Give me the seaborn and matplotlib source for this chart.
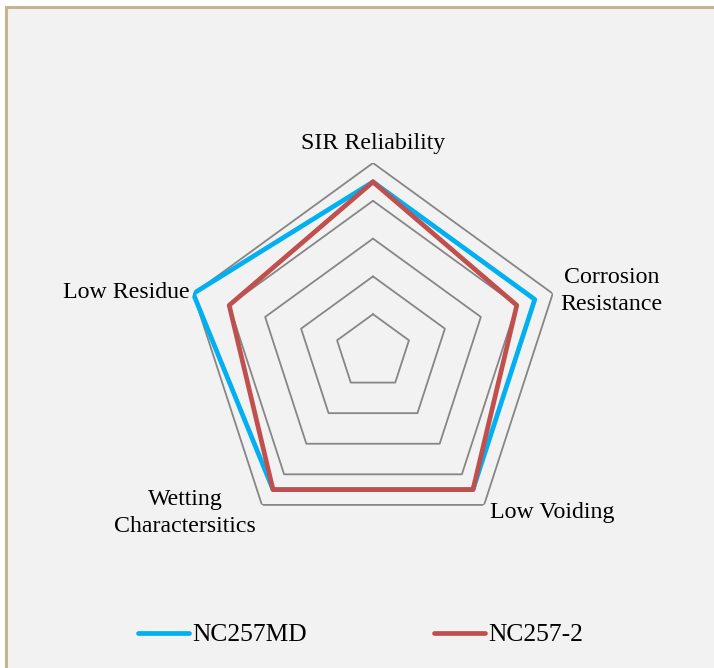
import matplotlib.pyplot as plt
import matplotlib.patches as mpatches
import seaborn as sns
import numpy as np

categories = ['SIR Reliability', 'Corrosion\nResistance', 'Low Voiding',
              'Wetting\nCharactersitics', 'Low Residue']
nc257md = [4.5, 4.5, 4.5, 4.5, 5.0]
nc257_2 = [4.5, 4.0, 4.5, 4.5, 4.0]
ring_levels = [1, 2, 3, 4, 5]

sns.set_theme(style="white")
plt.rcParams['font.family'] = ['Liberation Serif', 'DejaVu Serif']
plt.rcParams['text.color'] = 'black'

fig = plt.figure(figsize=(7.14, 6.68), dpi=100)
fig.patch.set_facecolor('white')
# chart area background with a tan border on left/top
fig.patches.append(mpatches.Rectangle((6 / 714, -0.05), 1.1, (668 - 7) / 668 + 0.05,
                                      transform=fig.transFigure, facecolor='#f2f2f2',
                                      edgecolor='#c4b590', linewidth=2.2, zorder=-5))

ax = fig.add_axes([(373 - 189) / 714, (316 - 189) / 668, 378 / 714, 378 / 668], polar=True)
ax.set_facecolor('none')
ax.set_theta_offset(np.pi / 2)
ax.set_theta_direction(-1)
ax.set_ylim(0, 5)
ax.grid(False)
ax.spines['polar'].set_visible(False)
ax.set_xticks([])
ax.set_yticks([])

n = len(categories)
angles = np.linspace(0, 2 * np.pi, n, endpoint=False)
closed = np.concatenate([angles, angles[:1]])

for lvl in ring_levels:
    ax.plot(closed, [lvl] * (n + 1), color='#868686', linewidth=1.3, zorder=1)

sns.lineplot(x=closed, y=nc257md + nc257md[:1], ax=ax, sort=False, estimator=None,
             color='#00b0f0', linewidth=3.4, label='NC257MD', zorder=3)
sns.lineplot(x=closed, y=nc257_2 + nc257_2[:1], ax=ax, sort=False, estimator=None,
             color='#c0504d', linewidth=3.4, label='NC257-2', zorder=4)

fs = 17.2
ax.text(angles[0], 5.25, categories[0], ha='center', va='bottom', fontsize=fs)
ax.text(angles[1], 5.22, categories[1], ha='left', va='center', fontsize=fs,
        multialignment='center', linespacing=1.4)
ax.text(angles[2], 5.25, categories[2], ha='left', va='center', fontsize=fs)
ax.text(angles[3], 5.26, categories[3], ha='right', va='center', fontsize=fs,
        multialignment='center', linespacing=1.4)
ax.text(angles[4], 5.1, categories[4], ha='right', va='center', fontsize=fs)

leg = ax.legend(loc='center', bbox_to_anchor=(0.505, 33 / 668), bbox_transform=fig.transFigure,
                ncol=2, frameon=False, fontsize=18.4, handlelength=2.0, handletextpad=0.1,
                columnspacing=5.0)
for line in leg.get_lines():
    line.set_solid_capstyle('round')
    line.set_linewidth(3.4)

fig.savefig('out.png', dpi=100)
